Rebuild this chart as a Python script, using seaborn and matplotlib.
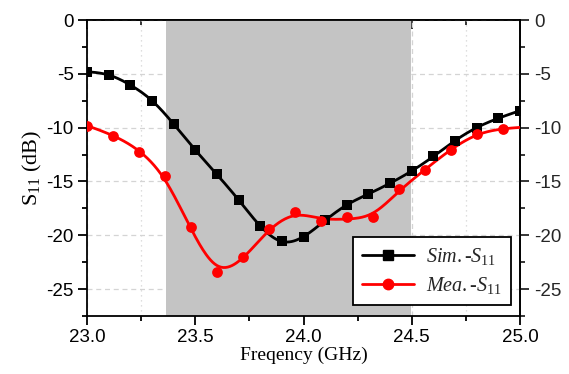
import numpy as np
import matplotlib
matplotlib.use("Agg")
import matplotlib.pyplot as plt
import seaborn as sns
from matplotlib.lines import Line2D
from matplotlib.ticker import MultipleLocator, FormatStrFormatter

# Simulated reflection coefficient
sim_freq = [23.0, 23.1, 23.2, 23.3, 23.4, 23.5, 23.6, 23.7, 23.8, 23.9, 24.0,
            24.1, 24.2, 24.3, 24.4, 24.5, 24.6, 24.7, 24.8, 24.9, 25.0]
sim_s11 = [-4.80, -5.11, -6.04, -7.49, -9.66, -12.07, -14.35, -16.71, -19.13, -20.57,
           -20.12, -18.62, -17.18, -16.16, -15.16, -14.02, -12.67, -11.21, -10.00, -9.13, -8.42]

# Measured reflection coefficient
mea_freq = [23.0, 23.12, 23.24, 23.36, 23.48, 23.6, 23.72, 23.84, 23.96, 24.08,
            24.2, 24.32, 24.44, 24.56, 24.68, 24.8, 24.92, 25.04]
mea_s11 = [-9.84, -10.77, -12.23, -14.50, -19.27, -23.44, -22.01, -19.43, -17.88, -18.69,
           -18.29, -18.29, -15.71, -13.98, -12.08, -10.61, -10.15, -9.95]

# Operating band
band = [23.365, 24.495]


def smooth_curve(x, y, lam, step=0.005):
    """Penalised (Whittaker) smoothing spline evaluated on a fine grid."""
    x = np.asarray(x, float)
    y = np.asarray(y, float)
    grid = np.arange(x.min(), x.max() + step / 2, step)
    n = len(grid)
    idx = np.rint((x - x.min()) / step).astype(int)
    A = np.zeros((n, n))
    b = np.zeros(n)
    A[idx, idx] += 1.0
    b[idx] = y
    D = np.diff(np.eye(n), 2, axis=0)
    A += lam * D.T @ D
    return grid, np.linalg.solve(A, b)


sns.set_theme(style="white")
plt.rcParams.update({
    "font.family": ["Liberation Sans", "DejaVu Sans"],
    "axes.unicode_minus": False,
    "mathtext.fontset": "custom",
    "mathtext.rm": "Liberation Serif",
    "mathtext.it": "Liberation Serif:italic",
})

fig = plt.figure(figsize=(5.69, 3.74), dpi=100)
ax = fig.add_axes([0.1529, 0.155, 0.761, 0.7915])

ax.set_xlim(23.0, 25.0)
ax.set_ylim(-27.5, 0)
ax.set_axisbelow(True)

ax.xaxis.set_major_locator(MultipleLocator(0.5))
ax.xaxis.set_minor_locator(MultipleLocator(0.25))
ax.yaxis.set_major_locator(MultipleLocator(5))
ax.yaxis.set_minor_locator(MultipleLocator(2.5))
ax.xaxis.set_major_formatter(FormatStrFormatter("%.1f"))
ax.yaxis.set_major_formatter(FormatStrFormatter("%d"))

ax.grid(which="major", axis="both", ls=(0, (4, 3)), color="#d4d4d4", lw=0.9)
ax.grid(which="minor", axis="x", ls=(0, (1, 3)), color="#d4d4d4", lw=0.9)

ax.axvspan(band[0], band[1], color="#c4c4c4", lw=0, zorder=1)

gx, gy = smooth_curve(sim_freq, sim_s11, lam=0.1)
sns.lineplot(x=gx, y=gy, color="black", lw=2.0, ax=ax, zorder=3, sort=False)
sns.scatterplot(x=sim_freq, y=sim_s11, marker="s", s=45, color="black",
                edgecolor="black", linewidth=0, ax=ax, zorder=4)

mx, my = smooth_curve(mea_freq, mea_s11, lam=1000)
sns.lineplot(x=mx, y=my, color="#ff0000", lw=2.0, ax=ax, zorder=3, sort=False)
sns.scatterplot(x=mea_freq, y=mea_s11, marker="o", s=60, color="#ff0000",
                edgecolor="#ff0000", linewidth=0, ax=ax, zorder=4)

for side in ["left", "right", "top", "bottom"]:
    ax.spines[side].set_visible(True)
    ax.spines[side].set_color("black")
    ax.spines[side].set_linewidth(1.3)

ax.tick_params(axis="both", which="major", length=6.5, width=1.3, color="black",
               labelsize=13.5, labelcolor="black")
ax.tick_params(axis="both", which="minor", length=3.5, width=1.3, color="black")
ax.tick_params(axis="x", which="both", direction="out", bottom=True, top=False, pad=3)
ax.tick_params(axis="y", which="both", direction="out", left=True, right=False, pad=3)

top = ax.secondary_xaxis("top")
top.xaxis.set_major_locator(MultipleLocator(0.5))
top.xaxis.set_minor_locator(MultipleLocator(0.25))
top.tick_params(which="major", direction="in", length=6.5, width=1.3, labeltop=False)
top.tick_params(which="minor", direction="in", length=3.5, width=1.3)
top.spines["top"].set_linewidth(1.3)

right = ax.secondary_yaxis("right")
right.yaxis.set_major_locator(MultipleLocator(5))
right.yaxis.set_minor_locator(MultipleLocator(2.5))
right.yaxis.set_major_formatter(FormatStrFormatter("%d"))
right.tick_params(which="major", direction="out", length=6.5, width=1.3, labelsize=13.5, pad=4)
right.tick_params(which="minor", direction="out", length=3.5, width=1.3)
right.spines["right"].set_linewidth(1.3)

ax.set_xlabel("Freqency (GHz)", family="Liberation Serif", fontsize=14, color="black", labelpad=0)
ax.set_ylabel(r"S$_{\mathrm{11}}$ (dB)", family="Liberation Serif", fontsize=16, color="black", labelpad=2)

handles = [
    Line2D([], [], color="black", lw=2.0, marker="s", markersize=6.5),
    Line2D([], [], color="#ff0000", lw=2.0, marker="o", markersize=7.5),
]
labels = [r"$\mathit{Sim.}$-$S_{\mathit{11}}$", r"$\mathit{Mea.}$-$S_{\mathit{11}}$"]
leg = ax.legend(handles, labels, loc="lower right", bbox_to_anchor=(0.98, 0.037),
                frameon=True, fancybox=False, edgecolor="black", framealpha=1,
                prop={"family": "Liberation Serif", "style": "italic", "size": 14.5},
                handlelength=2.6, handletextpad=0.6, borderpad=0.45, labelspacing=0.4,
                borderaxespad=0)
leg.get_frame().set_linewidth(1.3)
leg.set_zorder(6)

fig.savefig("out.png", dpi=100)
